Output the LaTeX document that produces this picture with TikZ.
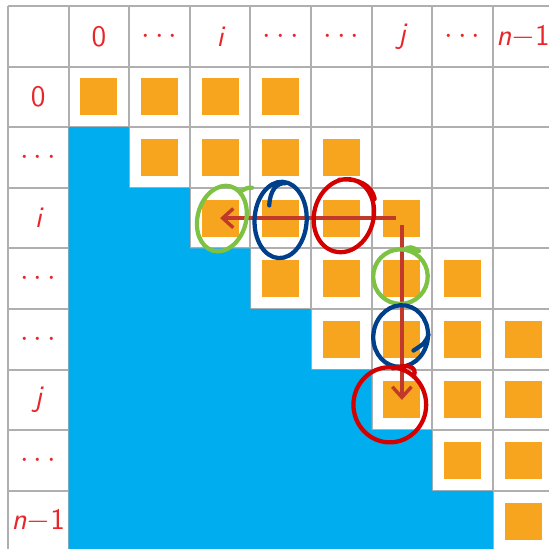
\documentclass[tikz,border=0pt]{standalone}
\definecolor{gridgray}{RGB}{175,175,175}
\definecolor{cellorange}{RGB}{247,165,30}
\definecolor{lowblue}{RGB}{0,174,239}
\definecolor{labelred}{RGB}{232,38,42}
\definecolor{arrowred}{RGB}{192,57,43}
\definecolor{markred}{RGB}{212,0,0}
\definecolor{markblue}{RGB}{0,63,138}
\definecolor{markgreen}{RGB}{125,194,66}
\usetikzlibrary{arrows.meta}

\begin{document}
\begin{tikzpicture}[x=1cm, y=-1cm,
    lbl/.style={text=labelred, font=\fontsize{14}{16}\selectfont\sffamily},
    sq/.style={fill=cellorange, minimum size=0.61cm, inner sep=0pt},
    arrow/.style={-{Straight Barb[length=5pt, width=9pt]}, arrowred, line width=1.6pt},
    ring/.style={draw=#1, line width=2pt, line cap=round},
  ]
    \useasboundingbox (-0.132,-0.099) rectangle (8.927,8.944);
    \clip (-0.132,-0.099) rectangle (8.927,8.944);

    % table and the part below the diagonal
    \draw[gridgray, line width=0.9pt] (0,0) grid (9,9);
    \fill[lowblue] (1,2) -- (2,2) -- (2,3) -- (3,3) -- (3,4) -- (4,4) -- (4,5) -- (5,5)
      -- (5,6) -- (6,6) -- (6,7) -- (7,7) -- (7,8) -- (8,8) -- (8,9.2) -- (1,9.2) -- cycle;

    % row and column headers
    \foreach \t [count=\k from 0] in {0, $\cdots$, \itshape i, $\cdots$, $\cdots$, \itshape j, $\cdots$, {\itshape n}$-$1} {
      \node[lbl] (hd-\k) at (\k+1.5, 0.5) {\t};
      \node[lbl] (rw-\k) at (0.5, \k+1.5) {\t};
    }

    % band of entries
    \foreach \r in {0,...,7} {
      \pgfmathtruncatemacro\last{min(\r+3,7)}
      \foreach \c in {\r,...,\last}
        \node[sq] (sq-\r-\c) at (\c+1.5, \r+1.5) {};
    }

    \draw[arrow] ([xshift=-3pt]sq-2-5.center) -- (sq-2-2.center);
    \draw[arrow] ([yshift=-3pt]sq-2-5.center) -- (sq-5-5.center);

    % hand-drawn marks
    \draw[ring=markgreen, shift={(sq-2-2.center)}, rotate=-15] (0.03,0) ellipse (0.40 and 0.55)
      (0.2,-0.5) .. controls (0.3,-0.6) .. (0.38,-0.62);
    \draw[ring=markblue, shift={(sq-2-3.center)}, rotate=-3] (0,0.03) ellipse (0.43 and 0.63)
      (-0.2,-0.2) .. controls (-0.2,-0.45) and (-0.1,-0.58) .. (0.05,-0.58);
    \draw[ring=markred, shift={(sq-2-4.center)}, rotate=-15] (0.03,-0.05) ellipse (0.49 and 0.61)
      (-0.2,-0.6) .. controls (0.1,-0.72) and (0.35,-0.65) .. (0.45,-0.45);
    \draw[ring=markgreen, shift={(sq-3-5.center)}, rotate=-10] (-0.03,-0.03) ellipse (0.45 and 0.45)
      (-0.05,-0.48) .. controls (0.05,-0.55) .. (0.2,-0.5);
    \draw[ring=markblue, shift={(sq-4-5.center)}, rotate=-10] (-0.03,-0.05) ellipse (0.45 and 0.51)
      (0.42,-0.15) .. controls (0.38,0) .. (0.22,0.15);
    \draw[ring=markred, shift={(sq-5-5.center)}] (-0.2,0.08) ellipse (0.6 and 0.62)
      (-0.15,-0.52) .. controls (0.1,-0.6) and (0.25,-0.55) .. (0.2,-0.4);
  \end{tikzpicture}
\end{document}
